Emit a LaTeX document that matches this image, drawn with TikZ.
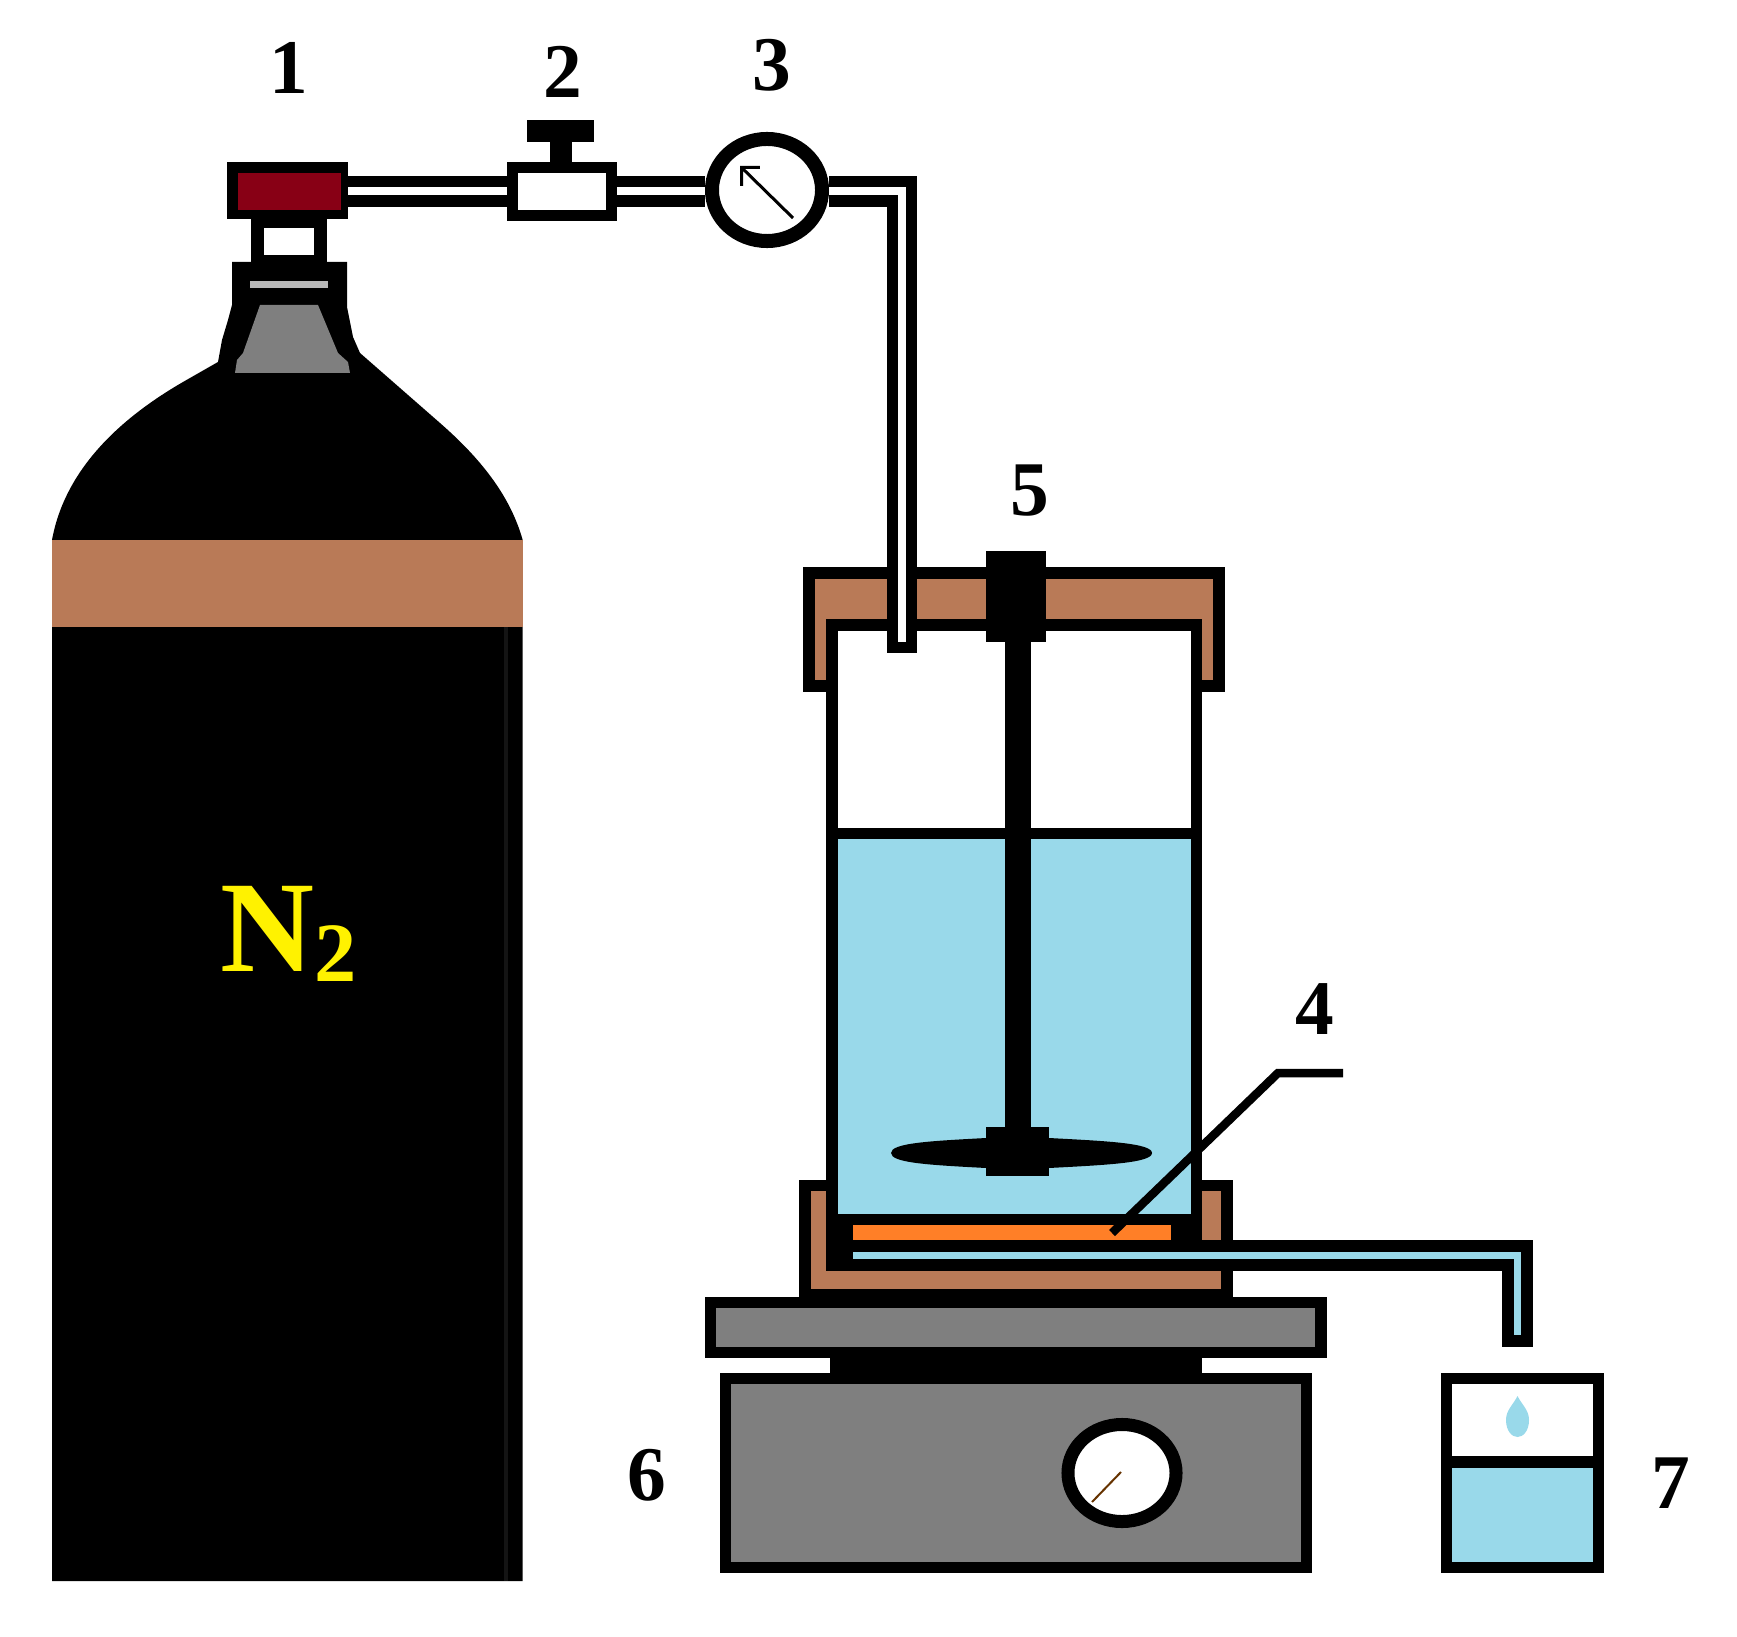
\documentclass[tikz,border=0pt]{standalone}
\usepackage{fontspec}
\setmainfont{Liberation Serif}
\usepackage{xcolor}
\usetikzlibrary{shapes,arrows.meta,positioning}

\definecolor{lidbrown}{HTML}{B97A57}
\definecolor{waterblue}{HTML}{99D9EA}
\definecolor{capred}{HTML}{880015}
\definecolor{filterorange}{HTML}{FF7F27}
\definecolor{stovegray}{HTML}{7F7F7F}

\tikzset{
    numlabel/.style={font=\fontsize{22}{24}\selectfont\bfseries, inner sep=0pt},
    wall/.style={draw=black, line width=1.15mm, miter limit=10},
    box/.style={rectangle, draw=black, line width=1.1mm, inner sep=0pt},
    dial/.style={ellipse, draw=black, fill=white, inner sep=0pt},
    airpipe/.style={line width=1.1mm, double=white, double distance=0.8mm},
    drainpipe/.style={line width=1.17mm, double=waterblue, double distance=0.76mm}
}

\begin{document}
\begin{tikzpicture}[x=0.01cm, y=-0.01cm]

                \useasboundingbox (0,0) rectangle (1737,1637);

                % gas cylinder
                \fill[black] (52,1581) -- (52,540)
                    .. controls (62,485) and (100,430) .. (183,382)
                    -- (218,362) -- (222,340) -- (228,320) -- (232,305) -- (232,262)
                    -- (347,262) -- (347,307) -- (353,337) -- (360,353)
                    -- (440,423)
                    .. controls (480,458) and (510,495) .. (522.7,540)
                    -- (522.7,1581) -- cycle;
                \fill[lidbrown] (52,540) rectangle (522.7,627);
                \fill[black!92] (503.5,627) rectangle (507.5,1581);
                \fill[white!72!black] (250,281) rectangle (328,288);
                \fill[stovegray] (260,305) -- (318,305) -- (338,353) -- (348,362) -- (350,373)
                    -- (235,373) -- (237,360) -- (243,353) -- cycle;
                \draw[
                    line width=1.3mm,
                    fill=white
                ] (257.5,222) rectangle (320.5,262);

                % cap, valve and gauge
                \node[box, fill=black, minimum width=1.10cm, minimum height=0.46cm] (cap) at (287.5,190.5) {};
                \fill[capred] (238,173) rectangle (341,210);
                \node[box, fill=white, minimum width=0.99cm, minimum height=0.47cm] (valve) at (562,191.5) {};
                \node[dial, line width=1.4mm, minimum width=1.10cm, minimum height=1.02cm] (gauge) at (767,190) {};
                \fill[black] (550,142) rectangle (572,162);
                \fill[black] (527,120) rectangle (594,142);
                \draw[line width=0.3mm, -{Straight Barb[length=1.3mm, width=2.6mm]}] (793,218) -- (740,166);

                % lid of the cell
                \draw[
                    wall,
                    fill=lidbrown
                ] (809,573) -- (1219,573) -- (1219,686) -- (1196,686) -- (1196,625)
                  -- (832,625) -- (832,686) -- (809,686) -- cycle;

                % cell with the water
                \fill[white] (837,631) rectangle (1191,830);
                \fill[waterblue] (837,835) rectangle (1191,1214);
                \draw[line width=1.13mm] (837,833.4) -- (1191,833.4);
                \fill[black] (826,631) rectangle (837.5,1271);
                \fill[black] (1190.5,631) rectangle (1202,1271);

                % holder under the cell
                \fill[black] (799,1180) rectangle (1233,1300);
                \fill[lidbrown] (811,1191) rectangle (1221,1289);
                \fill[black] (826,1180) rectangle (837.5,1271);
                \fill[black] (1190.5,1180) rectangle (1202,1271);
                \fill[black] (826,1214) rectangle (1202,1271);
                \fill[waterblue] (837.5,1180) rectangle (1190.5,1214);
                \fill[filterorange] (853,1225) rectangle (1171,1240);

                % stirrer
                \fill[black] (986,551) rectangle (1046,642);
                \fill[black] (1005,642) rectangle (1031,1130);
                \fill[black] (891,1153) .. controls (891,1143) and (930,1141) .. (986,1138)
                    -- (1049,1138) .. controls (1105,1141) and (1152,1143) .. (1152,1153)
                    .. controls (1152,1163) and (1105,1165) .. (1049,1168)
                    -- (986,1168) .. controls (930,1165) and (891,1163) .. (891,1153) -- cycle;
                \fill[black] (986,1127) rectangle (1049,1176);

                % pipes
                \draw[airpipe] (cap.east |- valve.west) -- (valve.west);
                \draw[airpipe] (valve.east) -- (valve.east -| gauge.west);
                \coordinate (inlet) at (902,642);
                \draw[airpipe] (gauge.east |- valve.east) -- (inlet |- valve.east) -- (inlet);
                \fill[black] (887,642) rectangle (917,653);

                \coordinate (drainstart) at (853,1255.5);
                \coordinate (drainend) at (1517.5,1335);
                \draw[drainpipe] (drainstart) -- (drainend |- drainstart) -- (drainend);
                \fill[black] (1502,1335) rectangle (1533,1347);

                % stirring plate
                \draw[
                    wall,
                    fill=stovegray
                ] (710.5,1302.5) rectangle (1321,1352.5);
                \fill[black] (830,1358) rectangle (1202,1373);
                \draw[
                    wall,
                    fill=stovegray
                ] (725.5,1378.5) rectangle (1306.5,1567.5);
                \node[dial, line width=1.3mm, minimum width=1.08cm, minimum height=0.97cm] (knob) at (1122,1473) {};
                \draw[line width=0.2mm, draw=black!60!orange] (1121,1472) -- (1092,1502);

                % beaker
                \fill[waterblue] (1446,1462) rectangle (1598,1567);
                \draw[
                    wall
                ] (1446.5,1378.5) rectangle (1598.5,1567.5);
                \draw[wall] (1446,1462) -- (1598,1462);
                \fill[waterblue] (1517.5,1396) .. controls (1522,1405) and (1529,1410) .. (1529,1420)
                    .. controls (1529,1431) and (1523,1437) .. (1517.5,1437)
                    .. controls (1512,1437) and (1506,1431) .. (1506,1420)
                    .. controls (1506,1410) and (1513,1405) .. (1517.5,1396) -- cycle;

                % leader of the filter
                \coordinate (leaderend) at (1112,1233);
                \coordinate (leaderknee) at (1278,1073);
                \coordinate (leaderfree) at (1343,1073);
                \draw[line width=0.85mm] (leaderend) -- (leaderknee) -- (leaderfree);

                % labels
                \node[numlabel] (labelone) at (289,68) {1};
                \node[numlabel] (labeltwo) at (563,72) {2};
                \node[numlabel] (labelthree) at (772,65) {3};
                \node[numlabel] (labelfour) at (1315,1009) {4};
                \node[numlabel] (labelfive) at (1030,491) {5};
                \node[numlabel] (labelsix) at (647,1475) {6};
                \node[numlabel] (labelseven) at (1671,1483) {7};
                \node[inner sep=0pt, text=yellow, font=\bfseries] (gasname) at (289,934)
                    {\fontsize{37}{39}\selectfont N\raisebox{-3pt}{\fontsize{24}{26}\selectfont 2}};

            \end{tikzpicture}
\end{document}
